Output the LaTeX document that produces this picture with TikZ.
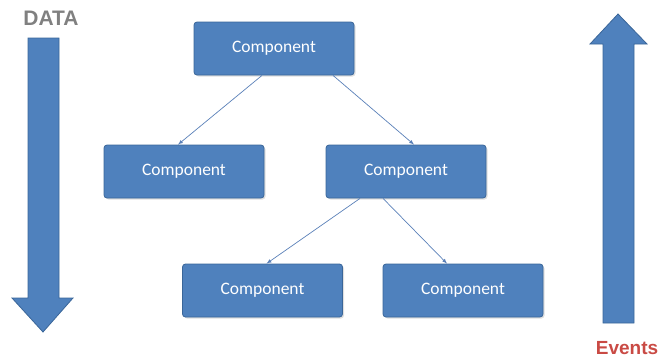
\documentclass[tikz,border=0pt]{standalone}
\usepackage{fontspec}
\setmainfont{Carlito}
\newfontfamily\labelfont{Liberation Sans}
\usetikzlibrary{arrows,shadows}
\definecolor{compblue}{HTML}{4F81BD}
\definecolor{compedge}{HTML}{3A6699}
\definecolor{linkblue}{HTML}{5A80B8}
\definecolor{eventred}{HTML}{C94A44}
\tikzset{
  comp/.style={rectangle, rounded corners=3pt, fill=compblue, draw=compedge, thick,
    minimum width=160pt, minimum height=53pt, text=white, font=\fontsize{17.5}{19}\selectfont,
    drop shadow={opacity=0.25, shadow xshift=1.5pt, shadow yshift=-1.5pt}},
  link/.style={->, linkblue, line width=0.7pt},
  bigarrow/.style={fill=compblue, draw=compedge, thick}
}
\begin{document}
\begin{tikzpicture}[>=latex, x=1pt, y=-1pt]
\useasboundingbox (0,0) rectangle (671,360);

\node[comp] (top) at (274,48.5) {Component};
\node[comp] (midL) at (184,171.5) {Component};
\node[comp] (midR) at (406,171.5) {Component};
\node[comp] (botL) at (262.5,290.5) {Component};
\node[comp] (botR) at (463,290.5) {Component};

\draw[link] ([xshift=-12pt]top.south) -- ([xshift=-6pt]midL.north);
\draw[link] ([xshift=59pt]top.south) -- ([xshift=8pt]midR.north);
\draw[link] ([xshift=-46pt]midR.south) -- ([xshift=4pt]botL.north);
\draw[link] ([xshift=-23pt]midR.south) -- ([xshift=-16pt]botR.north);

\draw[bigarrow] (28,38) -- (59,38) -- (59,298) -- (73,298) -- (43,332) -- (12,298) -- (28,298) -- cycle;
\node[font=\labelfont\bfseries\fontsize{21}{21}\selectfont, text=gray] (data) at (51,18) {DATA};

\draw[bigarrow] (603,323) -- (634,323) -- (634,44) -- (647,44) -- (618,14) -- (590,44) -- (603,44) -- cycle;
\node[font=\labelfont\bfseries\fontsize{19}{19}\selectfont, text=eventred] (events) at (627,348) {Events};

\end{tikzpicture}
\end{document}
